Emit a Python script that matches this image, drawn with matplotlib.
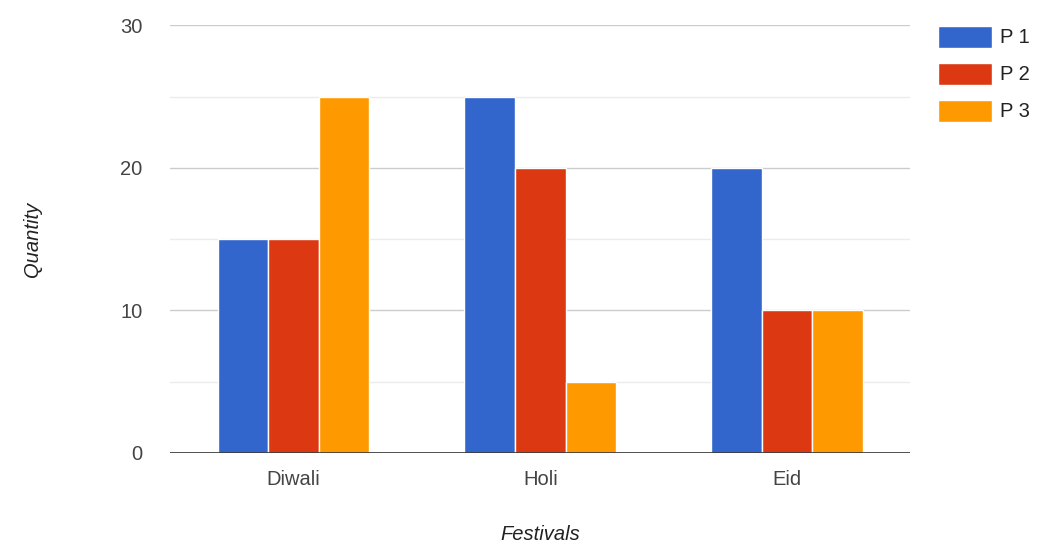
import matplotlib.pyplot as plt
import numpy as np

plt.rcParams['font.family'] = ['Liberation Sans', 'DejaVu Sans']

festivals = ["Diwali", "Holi", "Eid"]
series = ["P 1", "P 2", "P 3"]
p1 = [15, 25, 20]
p2 = [15, 20, 10]
p3 = [25, 5, 10]
colors = ["#3366cc", "#dc3912", "#ff9900"]

fig = plt.figure(figsize=(10.44, 5.48), dpi=100)
ax = fig.add_axes([0.163, 0.1734, 0.709, 0.7806])

x = np.arange(len(festivals))
w = 0.205
for i, (vals, name, c) in enumerate(zip([p1, p2, p3], series, colors)):
    ax.bar(x + (i - 1) * w, vals, w, color=c, edgecolor="white", linewidth=1, label=name, zorder=3)

ax.set_xlim(-0.5, 2.5)
ax.set_ylim(0, 30)
ax.set_yticks([0, 10, 20, 30])
ax.set_yticks([5, 15, 25], minor=True)
ax.grid(axis="y", which="major", color="#cccccc", linewidth=1, zorder=0)
ax.grid(axis="y", which="minor", color="#ebebeb", linewidth=1, zorder=0)
ax.axhline(0, color="#333333", linewidth=1.2, zorder=4)
for s in ax.spines.values():
    s.set_visible(False)
ax.tick_params(axis="both", which="both", length=0, labelsize=14.5, labelcolor="#444444")
ax.tick_params(axis="y", pad=20)
ax.tick_params(axis="x", pad=12)
ax.set_xticks(x)
ax.set_xticklabels(festivals)

ax.set_xlabel("Festivals", fontsize=14.5, style="italic", color="#222222", labelpad=26)
ax.set_ylabel("Quantity", fontsize=14.5, style="italic", color="#222222", labelpad=56)

leg = ax.legend(loc="upper left", bbox_to_anchor=(1.027, 1.018), frameon=False,
                fontsize=14.5, handlelength=2.65, handleheight=1.3, handletextpad=0.4,
                labelspacing=0.75, labelcolor="#222222", borderaxespad=0)

fig.savefig("out.png", dpi=100)
